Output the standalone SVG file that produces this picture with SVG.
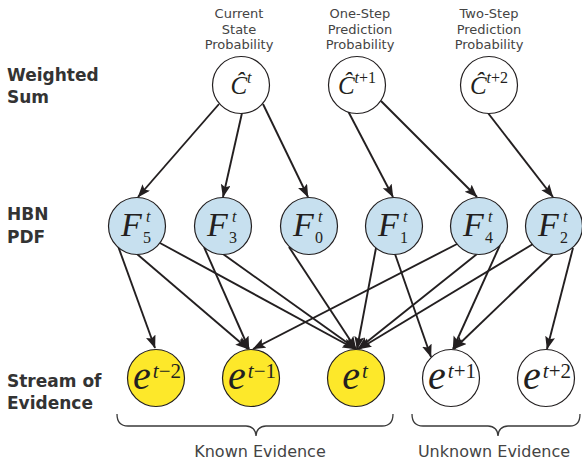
<svg xmlns="http://www.w3.org/2000/svg" width="582" height="464" viewBox="0 0 582 464">
<style>
.node{stroke:#231f20;stroke-width:1.2}
.c{fill:#ffffff}
.f{fill:#c7e0ef}
.k{fill:#fde82a}
.u{fill:#ffffff}
.m{font-family:"Liberation Serif","Times New Roman",serif;fill:#231f20}
.i{font-style:italic}
.cap{font-family:"DejaVu Sans",sans-serif;font-size:13px;fill:#444;text-anchor:middle}
.row{font-family:"DejaVu Sans",sans-serif;font-size:17px;font-weight:bold;fill:#333}
.ev{font-family:"DejaVu Sans",sans-serif;font-size:16px;fill:#444;text-anchor:middle}
.edge{stroke:#231f20;stroke-width:1.9;fill:none;marker-end:url(#ah)}
.brace{stroke:#3a3a3a;stroke-width:1.3;fill:none}
</style>
<defs>
<marker id="ah" markerUnits="userSpaceOnUse" markerWidth="14" markerHeight="11" refX="12.5" refY="5" orient="auto">
<path d="M0,0 L13,5 L0,10 L2.5,5 z" fill="#231f20"/>
</marker>
</defs>
<rect width="582" height="464" fill="#ffffff"/>

<g id="row-labels">
<text class="row" x="7" y="81">Weighted</text>
<text class="row" x="7" y="103">Sum</text>
<text class="row" x="7" y="220">HBN</text>
<text class="row" x="7" y="243">PDF</text>
<text class="row" x="7" y="387">Stream of</text>
<text class="row" x="7" y="409">Evidence</text>
</g>

<g id="captions">
<text class="cap" x="239" y="18">Current</text>
<text class="cap" x="239" y="33.5">State</text>
<text class="cap" x="239" y="49">Probability</text>
<text class="cap" x="360" y="18">One-Step</text>
<text class="cap" x="360" y="33.5">Prediction</text>
<text class="cap" x="360" y="49">Probability</text>
<text class="cap" x="489" y="18">Two-Step</text>
<text class="cap" x="489" y="33.5">Prediction</text>
<text class="cap" x="489" y="49">Probability</text>
</g>

<g id="connectors">
<path class="edge" d="M219,104 L138,197"/>
<path class="edge" d="M242,113 L223,197"/>
<path class="edge" d="M263,104 L308,197"/>
<path class="edge" d="M348,111 L393,197"/>
<path class="edge" d="M381,101 L477,197"/>
<path class="edge" d="M488,113 L553,197"/>

<path class="edge" d="M118,246 L155,348"/>
<path class="edge" d="M137,254 L248,349"/>
<path class="edge" d="M160,243 L355,349"/>
<path class="edge" d="M204,247 L249,349"/>
<path class="edge" d="M223,254 L356,349"/>
<path class="edge" d="M289,247 L356,349"/>
<path class="edge" d="M376,248 L357,349"/>
<path class="edge" d="M395,254 L431,357"/>
<path class="edge" d="M457,244 L253,349"/>
<path class="edge" d="M477,254 L358,349"/>
<path class="edge" d="M500,245 L453,349"/>
<path class="edge" d="M533,244 L359,349"/>
<path class="edge" d="M553,254 L454,349"/>
<path class="edge" d="M573,248 L547,349"/>
</g>

<g id="C_t">
<circle class="node c" cx="241" cy="85" r="28.5"/>
<text class="m" x="241" y="94" text-anchor="middle"><tspan class="i" font-size="25">Ĉ</tspan><tspan class="i" font-size="16" dy="-11">t</tspan></text>
</g>
<g id="C_t1">
<circle class="node c" cx="357" cy="85" r="28.5"/>
<text class="m" x="357" y="94" text-anchor="middle"><tspan class="i" font-size="25">Ĉ</tspan><tspan class="i" font-size="16" dy="-11">t</tspan><tspan font-size="16">+1</tspan></text>
</g>
<g id="C_t2">
<circle class="node c" cx="489" cy="85" r="28.5"/>
<text class="m" x="489" y="94" text-anchor="middle"><tspan class="i" font-size="25">Ĉ</tspan><tspan class="i" font-size="16" dy="-11">t</tspan><tspan font-size="16">+2</tspan></text>
</g>

<g id="F5">
<circle class="node f" cx="137" cy="226" r="28.5"/>
<text class="m i" x="121" y="236" font-size="34">F</text>
<text class="m i" x="146" y="222" font-size="16">t</text>
<text class="m" x="143" y="243" font-size="16">5</text>
</g>
<g id="F3">
<circle class="node f" cx="223" cy="226" r="28.5"/>
<text class="m i" x="207" y="236" font-size="34">F</text>
<text class="m i" x="232" y="222" font-size="16">t</text>
<text class="m" x="229" y="243" font-size="16">3</text>
</g>
<g id="F0">
<circle class="node f" cx="309" cy="226" r="28.5"/>
<text class="m i" x="293" y="236" font-size="34">F</text>
<text class="m i" x="318" y="222" font-size="16">t</text>
<text class="m" x="315" y="243" font-size="16">0</text>
</g>
<g id="F1">
<circle class="node f" cx="394" cy="226" r="28.5"/>
<text class="m i" x="378" y="236" font-size="34">F</text>
<text class="m i" x="403" y="222" font-size="16">t</text>
<text class="m" x="400" y="243" font-size="16">1</text>
</g>
<g id="F4">
<circle class="node f" cx="479" cy="226" r="28.5"/>
<text class="m i" x="463" y="236" font-size="34">F</text>
<text class="m i" x="488" y="222" font-size="16">t</text>
<text class="m" x="485" y="243" font-size="16">4</text>
</g>
<g id="F2">
<circle class="node f" cx="554" cy="226" r="28.5"/>
<text class="m i" x="538" y="236" font-size="34">F</text>
<text class="m i" x="563" y="222" font-size="16">t</text>
<text class="m" x="560" y="243" font-size="16">2</text>
</g>

<g id="e_tm2">
<circle class="node k" cx="156" cy="378" r="28.5"/>
<text class="m" x="157" y="389" text-anchor="middle"><tspan class="i" font-size="40">e</tspan><tspan class="i" font-size="21" dy="-11" dx="2">t</tspan><tspan font-size="21">−2</tspan></text>
</g>
<g id="e_tm1">
<circle class="node k" cx="251" cy="378" r="28.5"/>
<text class="m" x="252" y="389" text-anchor="middle"><tspan class="i" font-size="40">e</tspan><tspan class="i" font-size="21" dy="-11" dx="2">t</tspan><tspan font-size="21">−1</tspan></text>
</g>
<g id="e_t">
<circle class="node k" cx="356" cy="378" r="28.5"/>
<text class="m" x="355" y="389" text-anchor="middle"><tspan class="i" font-size="40">e</tspan><tspan class="i" font-size="21" dy="-11" dx="2">t</tspan></text>
</g>
<g id="e_tp1">
<circle class="node u" cx="451" cy="378" r="28.5"/>
<text class="m" x="452" y="389" text-anchor="middle"><tspan class="i" font-size="40">e</tspan><tspan class="i" font-size="21" dy="-11" dx="2">t</tspan><tspan font-size="21">+1</tspan></text>
</g>
<g id="e_tp2">
<circle class="node u" cx="546" cy="378" r="28.5"/>
<text class="m" x="547" y="389" text-anchor="middle"><tspan class="i" font-size="40">e</tspan><tspan class="i" font-size="21" dy="-11" dx="2">t</tspan><tspan font-size="21">+2</tspan></text>
</g>

<g id="known-evidence">
<path class="brace" d="M117,414 C117,422 120,426 128,426 L246,426 C252,426 256,430 256,436 C256,430 260,426 266,426 L382,426 C390,426 393,422 393,414"/>
<text class="ev" x="260" y="457">Known Evidence</text>
</g>
<g id="unknown-evidence">
<path class="brace" d="M412,414 C412,422 415,426 423,426 L488,426 C494,426 498,430 498,436 C498,430 502,426 508,426 L570,426 C577,426 580,422 580,414"/>
<text class="ev" x="494" y="457">Unknown Evidence</text>
</g>
</svg>
